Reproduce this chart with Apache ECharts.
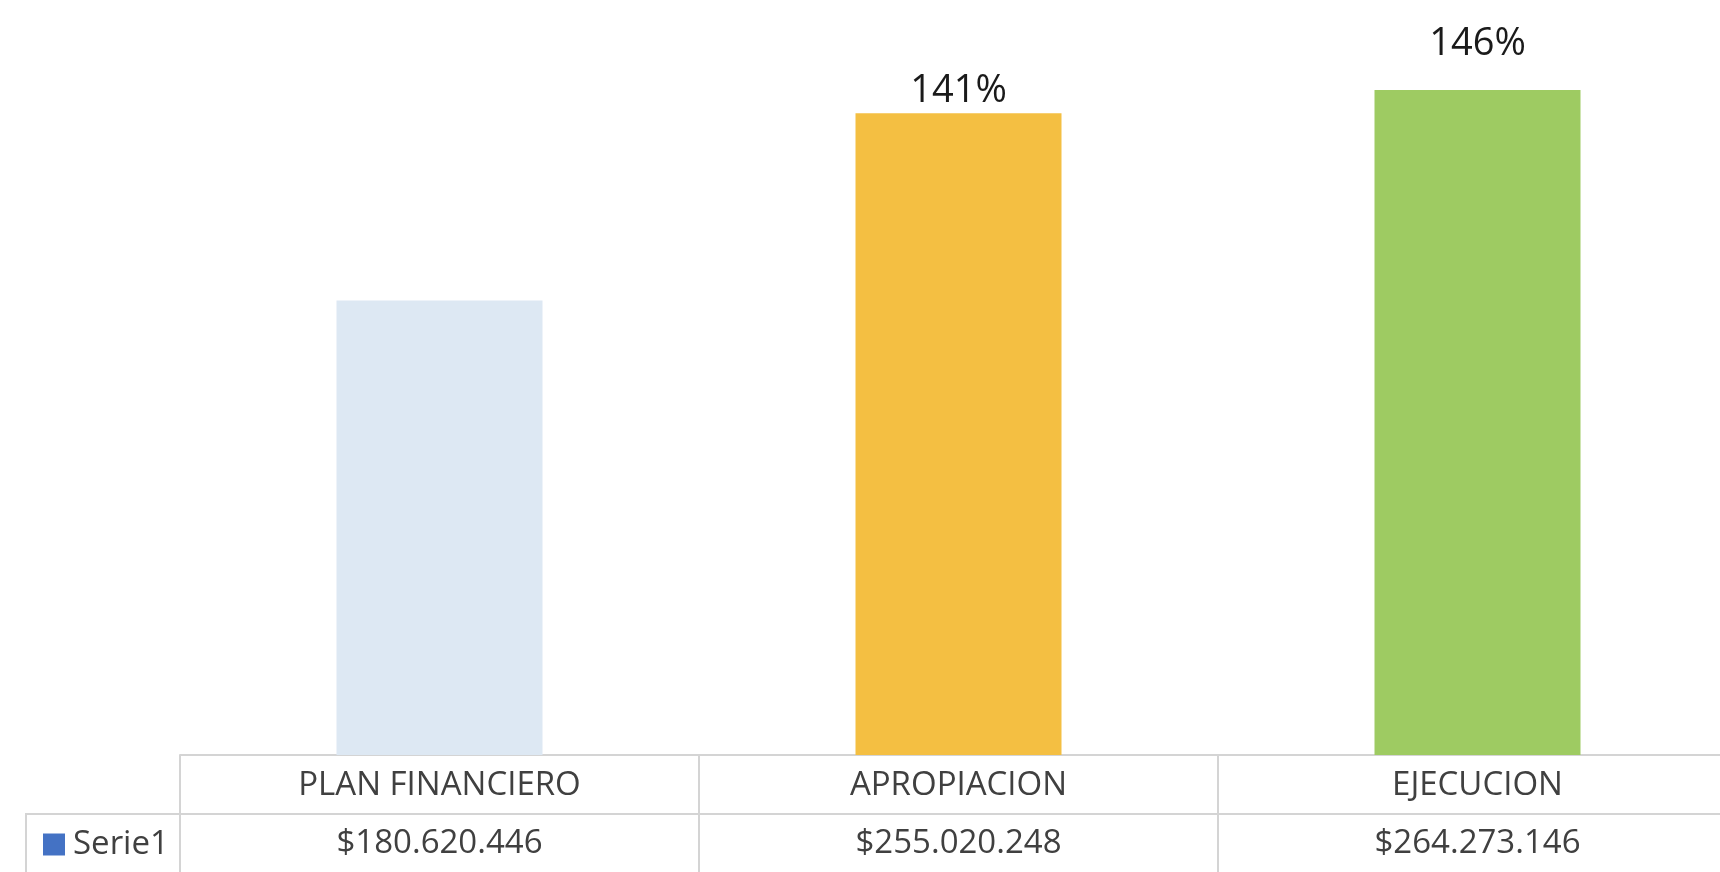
<!DOCTYPE html>
<html>
<head>
<meta charset="utf-8">
<script src="https://cdn.jsdelivr.net/npm/echarts@6/dist/echarts.min.js"></script>
<style>
html,body{margin:0;padding:0;background:#fff;overflow:hidden;width:1720px;height:872px;}
#c{width:1740px;height:872px;}
</style>
</head>
<body>
<div id="c"></div>
<script>
// ---- data ----
const categories = ['PLAN FINANCIERO', 'APROPIACION', 'EJECUCION'];
const values = [180620446, 255020248, 264273146];
const pctLabels = ['', '141%', '146%'];
const seriesName = 'Serie1';

// ---- styles ----
const barColors = ['#DDE8F3', '#F4BF42', '#9ECB62'];
const labelDistances = [0, 3, 27];
const FONT = '"Open Sans", Lato, sans-serif';
const TXT = '#404040';
const LINE = '#d4d4d4';
const fs = 33;

function money(v){
  return '$' + String(v).replace(/\B(?=(\d{3})+(?!\d))/g, '.');
}

const chart = echarts.init(document.getElementById('c'));
chart.setOption({
  animation: false,
  backgroundColor: '#fff',
  grid: {left: 180, right: 3, top: 0, bottom: 117, containLabel: false},
  legend: {
    data: [seriesName],
    left: 38, top: 823,
    icon: 'rect', itemWidth: 22, itemHeight: 22, itemGap: 0,
    textStyle: {fontFamily: FONT, fontSize: fs, color: TXT, padding: [0,0,0,3]}
  },
  xAxis: [{
    type: 'category', data: categories, position: 'bottom',
    axisLine: {show: true, lineStyle: {color: LINE, width: 2}},
    axisTick: {show: true, length: 117, alignWithLabel: false, lineStyle: {color: LINE, width: 2}},
    axisLabel: {fontFamily: FONT, fontSize: fs, color: TXT, lineHeight: fs, margin: 30 - fs/2 + 1}
  }, {
    type: 'category', data: categories, position: 'bottom', offset: 59,
    axisLine: {show: true, lineStyle: {color: LINE, width: 2}},
    axisTick: {show: false},
    axisLabel: {
      fontFamily: FONT, fontSize: fs, color: TXT, lineHeight: fs, margin: 28 - fs/2 + 2,
      formatter: function(v, i){ return money(values[i]); }
    }
  }],
  yAxis: {type: 'value', min: 0, max: 300000000, show: false, splitLine: {show: false}},
  series: [{
    name: seriesName,
    type: 'bar',
    barWidth: 206,
    itemStyle: {color: '#4472C4'},
    label: {
      show: true, position: 'top', fontFamily: FONT, fontSize: 38, color: '#1a1a1a',
      formatter: function(p){ return pctLabels[p.dataIndex]; }
    },
    data: values.map(function(v, i){
      return {value: v, itemStyle: {color: barColors[i]}, label: {distance: labelDistances[i]}};
    })
  }],
  graphic: [
    {type: 'line', shape: {x1: 26, y1: 814, x2: 181, y2: 814}, style: {stroke: LINE, lineWidth: 2}},
    {type: 'line', shape: {x1: 26, y1: 813, x2: 26, y2: 872}, style: {stroke: LINE, lineWidth: 2}}
  ]
});
</script>
</body>
</html>
